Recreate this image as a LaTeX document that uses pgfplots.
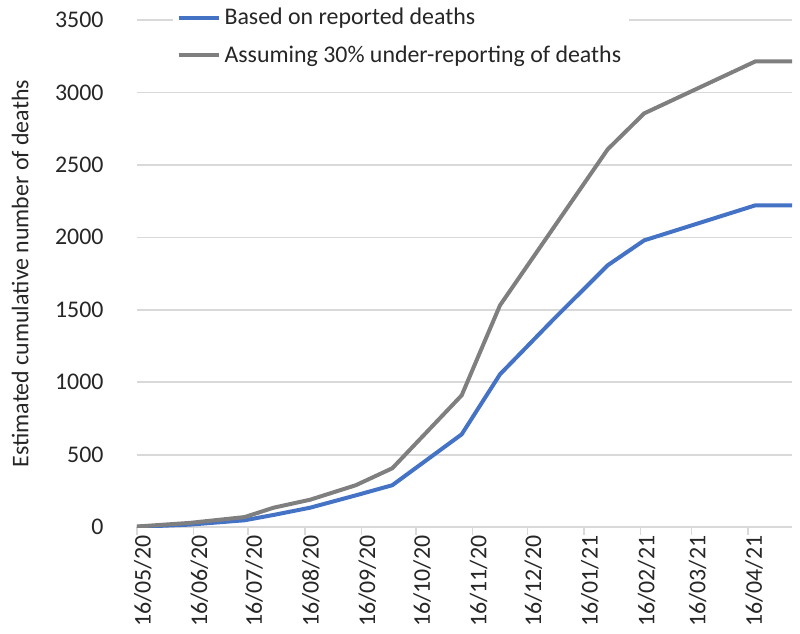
\documentclass[border=0pt]{standalone}
\usepackage{pgfplots}
\pgfplotsset{compat=1.18}
\usetikzlibrary{calc}
\usepackage{fontspec}
\setmainfont{Carlito}
\definecolor{xlblue}{HTML}{4472C4}
\definecolor{xlgray}{HTML}{7F7F7F}
\definecolor{gridc}{HTML}{D9D9D9}
\begin{document}
\begin{tikzpicture}
\begin{axis}[
  name=ax,
  scale only axis,
  width=328bp, height=254bp,
  xmin=0, xmax=359, ymin=0, ymax=3500,
  axis line style={draw=none},
  ymajorgrids, grid style={gridc, line width=0.8bp},
  ytick={0,500,...,3500},
  ytick style={draw=none},
  xtick={0,31,61,92,123,153,184,214,245,276,304,335},
  xticklabels={16/05/20,16/06/20,16/07/20,16/08/20,16/09/20,16/10/20,16/11/20,16/12/20,16/01/21,16/02/21,16/03/21,16/04/21},
  xtick pos=bottom, tick align=outside, major tick length=4bp,
  xtick style={gridc, line width=0.8bp},
  /pgf/number format/assume math mode=true,
  /pgf/number format/set thousands separator={},
  tick label style={font=\fontsize{12}{14}\selectfont, text=black!85},
  xticklabel style={rotate=90, anchor=east, inner sep=0pt, xshift=0bp, yshift=-3bp},
  yticklabel style={anchor=east, inner sep=0pt, xshift=-12.5bp},
  ylabel={Estimated cumulative number of deaths},
  every axis y label/.style={at={(axis description cs:-0.178,0.5)}, rotate=90, anchor=center, font=\fontsize{12}{14}\selectfont, text=black!85},
  legend style={at={(rel axis cs:0.054,1.04)}, anchor=north west, draw=none, fill=white,
    font=\fontsize{12}{14}\selectfont, text=black!85, row sep=5bp, inner xsep=2bp, inner ysep=2bp},
  legend cell align=left,
  legend image code/.code={\draw[#1] (0bp,0bp) -- (20bp,0bp);},
]
\addplot[xlblue, line width=2bp] coordinates {
(0,3) (29,18) (59,48) (75,85) (95,135) (120,220) (140,290) (178,641) (199,1055) (228,1430) (258,1807) (278,1979) (339,2221) (359,2221)
};
\addlegendentry{Based on reported deaths}
\addplot[xlgray, line width=2bp] coordinates {
(0,5) (29,30) (59,70) (75,135) (95,190) (120,290) (140,407) (178,910) (199,1531) (228,2060) (258,2607) (278,2855) (339,3214) (359,3214)
};
\addlegendentry{Assuming 30\% under-reporting of deaths}
\end{axis}
\path ($(ax.south west)+(-68.5bp,-53bp)$) rectangle ($(ax.north east)+(3.5bp,8.5bp)$);
\end{tikzpicture}
\end{document}
